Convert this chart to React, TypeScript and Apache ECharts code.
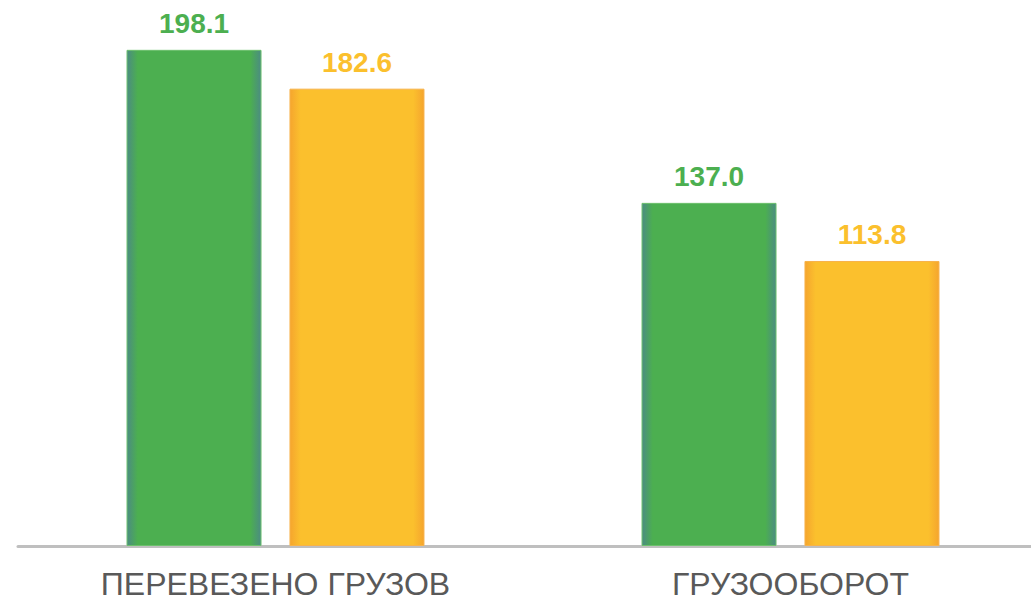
import React, { useEffect, useRef } from "react";
import * as echarts from "echarts";

const categories = ["ПЕРЕВЕЗЕНО ГРУЗОВ", "ГРУЗООБОРОТ"];
const seriesA = [198.1, 137.0];
const seriesB = [182.6, 113.8];

const green = "#4CAF50";
const orange = "#FBC02D";

function edgeGradient(edge: string, mid: string) {
  return new echarts.graphic.LinearGradient(0, 0, 1, 0, [
    { offset: 0, color: edge },
    { offset: 0.08, color: mid },
    { offset: 0.92, color: mid },
    { offset: 1, color: edge },
  ]);
}

const labelFont = "Liberation Sans, Arial, sans-serif";

export default function App() {
  const ref = useRef<HTMLDivElement>(null);
  useEffect(() => {
    document.body.style.margin = "0";
    document.body.style.overflow = "hidden";
    const chart = echarts.init(ref.current!, undefined, { renderer: "svg" });
    chart.setOption({
      animation: false,
      grid: { left: 18, right: 18, top: 0, bottom: 55, containLabel: false },
      xAxis: {
        type: "category",
        data: categories,
        axisLine: { lineStyle: { color: "#BFBFBF", width: 3 } },
        axisTick: { show: false },
        axisLabel: {
          color: "#595959",
          fontSize: 32,
          fontFamily: labelFont,
          margin: 22,
        },
      },
      yAxis: {
        type: "value",
        min: 0,
        max: 218,
        show: false,
        splitLine: { show: false },
      },
      series: [
        {
          type: "bar",
          data: seriesA,
          barWidth: 135,
          barGap: "20.7%",
          itemStyle: {
            color: edgeGradient("#4B8C82", green),
            borderColor: "#6CC06C",
            borderWidth: 1,
          },
          label: {
            show: true,
            position: "top",
            distance: 12,
            formatter: (p: any) => p.value.toFixed(1),
            color: green,
            fontSize: 28,
            fontWeight: "bold",
            fontFamily: labelFont,
          },
        },
        {
          type: "bar",
          data: seriesB,
          barWidth: 135,
          itemStyle: {
            color: edgeGradient("#F5A52E", orange),
            borderColor: "#F7B24A",
            borderWidth: 1,
          },
          label: {
            show: true,
            position: "top",
            distance: 12,
            formatter: (p: any) => p.value.toFixed(1),
            color: orange,
            fontSize: 28,
            fontWeight: "bold",
            fontFamily: labelFont,
          },
        },
      ],
    });
    return () => chart.dispose();
  }, []);
  return (
    <div
      ref={ref}
      style={{ position: "fixed", left: 0, top: 0, width: 1066, height: 601, background: "#fff" }}
    />
  );
}
